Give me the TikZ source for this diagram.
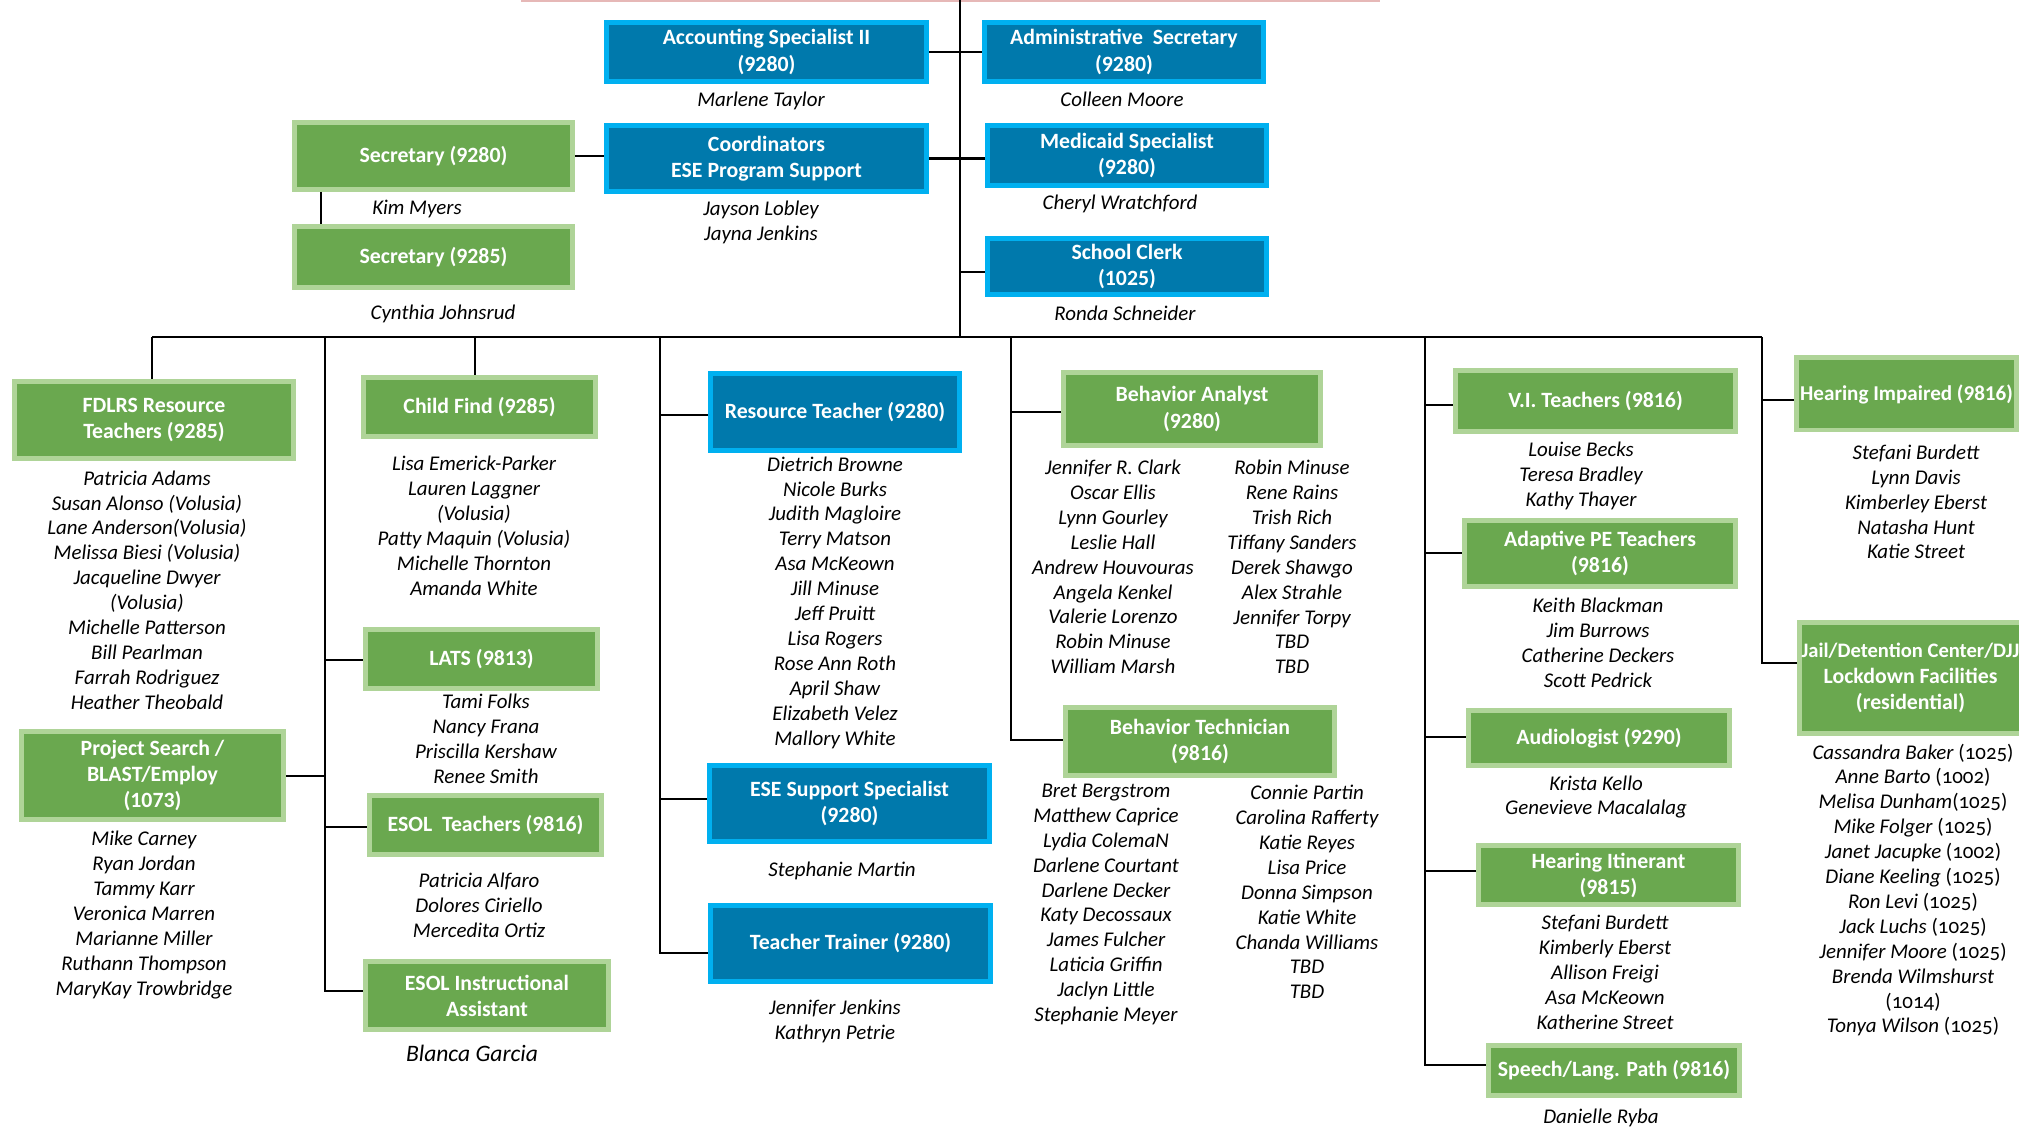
\documentclass[tikz,border=0pt]{standalone}
\usepackage{fontspec}
\setmainfont{Carlito}
\usetikzlibrary{calc}
\definecolor{bfill}{RGB}{0,121,172}
\definecolor{bline}{RGB}{0,176,240}
\definecolor{gfill}{RGB}{106,168,79}
\definecolor{gline}{RGB}{175,212,152}
\definecolor{pinkline}{RGB}{230,184,183}
\newcommand\bxfont{\fontsize{6.2pt}{7.4pt}\selectfont\bfseries}
\newcommand\nmfont{\fontsize{5.95pt}{7.08pt}\selectfont\itshape}
\newcommand\onum[1]{\textup{\addfontfeatures{Numbers=OldStyle}#1}}
\newcommand\orgbox[7]{\node[#1, minimum width={(#5-5)*0.01cm}, minimum height={(#6-5)*0.01cm}] (#2) at (#3,#4) {#7};}
\begin{document}
\begin{tikzpicture}[x=0.01cm, y=-0.01cm,
  box/.style={line width=1.42pt, inner sep=0pt, align=center, text=white, font=\bxfont},
  bluebox/.style={box, draw=bline, fill=bfill},
  greenbox/.style={box, draw=gline, fill=gfill},
  names/.style={align=center, inner sep=0pt, font=\nmfont},
  conn/.style={line width=0.6pt, black}]
\fill[white] (0,0) rectangle (2019,1128);
\useasboundingbox (0,0) rectangle (2019,1128);
\draw[pinkline, line width=0.6pt] (521,1) -- (1380,1);

% ---- blue boxes
\orgbox{bluebox}{acc}{766.5}{52}{325}{64}{Accounting Specialist II\\(9280)}
\orgbox{bluebox}{coord}{766.5}{158.5}{325}{71}{Coordinators\\ESE Program Support}
\orgbox{bluebox}{admin}{1124}{52}{284}{64}{Administrative\ \ Secretary\\(9280)}
\orgbox{bluebox}{medic}{1127}{155.5}{284}{65}{Medicaid Specialist\\(9280)}
\orgbox{bluebox}{clerk}{1127}{266.5}{284}{61}{School Clerk\\(1025)}
\orgbox{bluebox}{res}{835}{412}{254}{82}{Resource Teacher (9280)}
\orgbox{bluebox}{ese}{849.5}{803.5}{285}{81}{ESE Support Specialist\\(9280)}
\orgbox{bluebox}{trainer}{850.5}{943.5}{285}{81}{Teacher Trainer (9280)}

% ---- green boxes
\orgbox{greenbox}{sec1}{433.5}{156}{283}{72}{Secretary (9280)}
\orgbox{greenbox}{sec2}{433.5}{257}{283}{66}{Secretary (9285)}
\orgbox{greenbox}{fdlrs}{154}{420}{284}{82}{FDLRS Resource\\Teachers (9285)}
\orgbox{greenbox}{child}{479.5}{407}{237}{64}{Child Find (9285)}
\orgbox{greenbox}{lats}{481.5}{659}{237}{64}{LATS (9813)}
\orgbox{greenbox}{proj}{152.5}{775.5}{267}{93}{Project Search /\\BLAST/Employ\\(1073)}
\orgbox{greenbox}{esol}{485.5}{825}{237}{64}{ESOL\ \ Teachers (9816)}
\orgbox{greenbox}{esolia}{487}{995.5}{248}{73}{ESOL Instructional\\Assistant}
\orgbox{greenbox}{ba}{1192}{409}{262}{78}{Behavior Analyst\\(9280)}
\orgbox{greenbox}{bt}{1200}{741.5}{274}{73}{Behavior Technician\\(9816)}
\orgbox{greenbox}{vi}{1595.5}{401}{285}{66}{V.I. Teachers (9816)}
\orgbox{greenbox}{ape}{1600}{553.5}{276}{71}{Adaptive PE Teachers\\(9816)}
\orgbox{greenbox}{aud}{1599}{738}{266}{60}{Audiologist (9290)}
\orgbox{greenbox}{hitin}{1608.5}{875}{265}{64}{Hearing Itinerant\\(9815)}
\orgbox{greenbox}{speech}{1614}{1070.5}{256}{55}{Speech/Lang. Path (9816)}
\orgbox{greenbox}{hi}{1906.5}{394}{225}{77}{{\fontsize{6.0pt}{7.4pt}\selectfont Hearing Impaired (9816)}}
\orgbox{greenbox}{jail}{1910.5}{678}{227}{116}{{\fontsize{5.85pt}{7.4pt}\selectfont Jail/Detention Center/DJJ}\\Lockdown Facilities\\(residential)}

% ---- names
\node[names] (nacc) at (761,101) {Marlene Taylor};
\node[names] (nsec1) at (417,209) {Kim Myers};
\node[names] (ncoord) at (761,222) {Jayson Lobley\\Jayna Jenkins};
\node[names] (nsec2) at (443,314) {Cynthia Johnsrud};
\node[names] (nadmin) at (1122,99) {Colleen Moore};
\node[names] (nmedic) at (1120,204) {Cheryl Wratchford};
\node[names] (nclerk) at (1125,313) {Ronda Schneider};
\node[names] (nfdlrs) at (147,590) {Patricia Adams\\Susan Alonso (Volusia)\\Lane Anderson(Volusia)\\Melissa Biesi (Volusia)\\Jacqueline Dwyer\\(Volusia)\\Michelle Patterson\\Bill Pearlman\\Farrah Rodriguez\\Heather Theobald};
\node[names] (nchild) at (474,526) {Lisa Emerick-Parker\\Lauren Laggner\\(Volusia)\\Patty Maquin (Volusia)\\Michelle Thornton\\Amanda White};
\node[names] (nlats) at (486,739) {Tami Folks\\Nancy Frana\\Priscilla Kershaw\\Renee Smith};
\node[names] (nproj) at (144,915) {Mike Carney\\Ryan Jordan\\Tammy Karr\\Veronica Marren\\Marianne Miller\\Ruthann Thompson\\MaryKay Trowbridge};
\node[names] (nesol) at (479,905) {Patricia Alfaro\\Dolores Ciriello\\Mercedita Ortiz};
\node[names, font=\fontsize{6.7pt}{8pt}\selectfont\itshape] (nesolia) at (472,1053) {Blanca Garcia};
\node[names] (nres) at (835,602.5) {Dietrich Browne\\Nicole Burks\\Judith Magloire\\Terry Matson\\Asa McKeown\\Jill Minuse\\Jeff Pruitt\\Lisa Rogers\\Rose Ann Roth\\April Shaw\\Elizabeth Velez\\Mallory White};
\node[names] (nese) at (842,871) {Stephanie Martin};
\node[names] (ntrainer) at (835,1021.5) {Jennifer Jenkins\\Kathryn Petrie};
\node[names] (nba1) at (1113,567) {Jennifer R. Clark\\Oscar Ellis\\Lynn Gourley\\Leslie Hall\\Andrew Houvouras\\Angela Kenkel\\Valerie Lorenzo\\Robin Minuse\\William Marsh};
\node[names] (nba2) at (1292,567) {Robin Minuse\\Rene Rains\\Trish Rich\\Tiffany Sanders\\Derek Shawgo\\Alex Strahle\\Jennifer Torpy\\TBD\\TBD};
\node[names] (nbt1) at (1106,904.5) {Bret Bergstrom\\Matthew Caprice\\Lydia ColemaN\\Darlene Courtant\\Darlene Decker\\Katy Decossaux\\James Fulcher\\Laticia Griffin\\Jaclyn Little\\Stephanie Meyer};
\node[names] (nbt2) at (1307,892) {Connie Partin\\Carolina Rafferty\\Katie Reyes\\Lisa Price\\Donna Simpson\\Katie White\\Chanda Williams\\TBD\\TBD};
\node[names] (nvi) at (1581,476) {Louise Becks\\Teresa Bradley\\Kathy Thayer};
\node[names] (nape) at (1598,643) {Keith Blackman\\Jim Burrows\\Catherine Deckers\\Scott Pedrick};
\node[names] (naud) at (1596,797) {Krista Kello\\Genevieve Macalalag};
\node[names] (nhitin) at (1605,972.5) {Stefani Burdett\\Kimberly Eberst\\Allison Freigi\\Asa McKeown\\Katherine Street};
\node[names] (nspeech) at (1601,1118) {Danielle Ryba};
\node[names] (nhi) at (1916,502) {Stefani Burdett\\Lynn Davis\\Kimberley Eberst\\Natasha Hunt\\Katie Street};
\node[names] (njail) at (1913,890) {Cassandra Baker \onum{(1025)}\\Anne Barto \onum{(1002)}\\Melisa Dunham\onum{(1025)}\\Mike Folger \onum{(1025)}\\Janet Jacupke \onum{(1002)}\\Diane Keeling \onum{(1025)}\\Ron Levi \onum{(1025)}\\Jack Luchs \onum{(1025)}\\Jennifer Moore \onum{(1025)}\\Brenda Wilmshurst\\\onum{(1014)}\\Tonya Wilson \onum{(1025)}};

% ---- connectors, top part
\coordinate (top) at (960,0);
\coordinate (bus) at (960,337);
\coordinate (jclerk) at (960,272);
\draw[conn] (top) -- (bus);
\draw[conn] (acc.east) -- (admin.west);
\draw[conn] (coord.east) -- (coord.east -| medic.west);
\draw[conn] (sec1.east) -- (sec1.east -| coord.west);
\draw[conn] ($(sec1.south west)+(29,0)$) -- ($(sec2.north west)+(29,0)$);
\draw[conn] (jclerk) -- (jclerk -| clerk.west);

% ---- bus and columns
\coordinate (c1) at (152,337);
\coordinate (c2) at (325,337);
\coordinate (c3) at (475,337);
\coordinate (c4) at (660,337);
\coordinate (c5) at (1011,337);
\coordinate (c6) at (1425,337);
\coordinate (c7) at (1762,337);
\draw[conn] (c1) -- (c7);
\draw[conn] (c1) -- (c1 |- fdlrs.north);
\draw[conn] (c3) -- (c3 |- child.north);

\coordinate (jlats) at (325,660);
\coordinate (jproj) at (325,776);
\coordinate (jesol) at (325,827);
\coordinate (jesolia) at (325,991);
\draw[conn] (c2) -- (jesolia) -- (jesolia -| esolia.west);
\draw[conn] (jlats) -- (jlats -| lats.west);
\draw[conn] (jproj -| proj.east) -- (jproj);
\draw[conn] (jesol) -- (jesol -| esol.west);

\coordinate (jres) at (660,415);
\coordinate (jese) at (660,799);
\coordinate (jtrainer) at (660,953);
\draw[conn] (c4) -- (jtrainer) -- (jtrainer -| trainer.west);
\draw[conn] (jres) -- (jres -| res.west);
\draw[conn] (jese) -- (jese -| ese.west);

\coordinate (jba) at (1011,412);
\coordinate (jbt) at (1011,740);
\draw[conn] (c5) -- (jbt) -- (jbt -| bt.west);
\draw[conn] (jba) -- (jba -| ba.west);

\coordinate (jvi) at (1425,405);
\coordinate (jape) at (1425,553);
\coordinate (jaud) at (1425,737);
\coordinate (jhitin) at (1425,871);
\coordinate (jspeech) at (1425,1065);
\draw[conn] (c6) -- (jspeech) -- (jspeech -| speech.west);
\draw[conn] (jvi) -- (jvi -| vi.west);
\draw[conn] (jape) -- (jape -| ape.west);
\draw[conn] (jaud) -- (jaud -| aud.west);
\draw[conn] (jhitin) -- (jhitin -| hitin.west);

\coordinate (jhi) at (1762,400);
\coordinate (jjail) at (1762,663);
\draw[conn] (c7) -- (jjail) -- (jjail -| jail.west);
\draw[conn] (jhi) -- (jhi -| hi.west);
\end{tikzpicture}
\end{document}
